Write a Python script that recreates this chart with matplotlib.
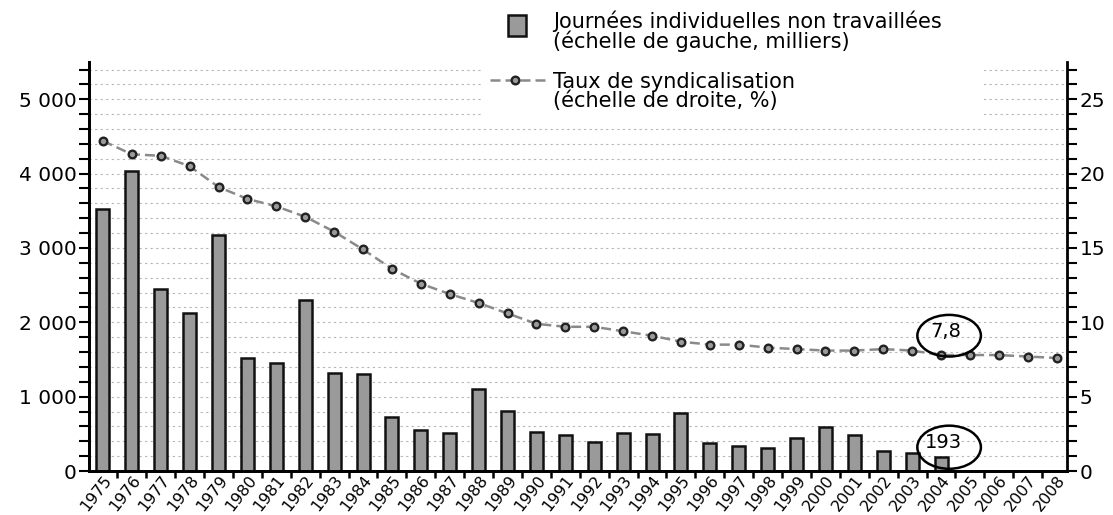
import numpy as np
import matplotlib.pyplot as plt
import matplotlib.transforms as mtransforms
from matplotlib.patches import Ellipse, Rectangle
from matplotlib.lines import Line2D

plt.rcParams['font.family'] = ['DejaVu Sans']

# ---------- données ----------
annees = [str(a) for a in range(1975, 2009)]
journees = [3520, 4030, 2450, 2120, 3170, 1520, 1450, 2300, 1320, 1300,
            730, 550, 510, 1100, 810, 525, 485, 390, 510, 500,
            780, 375, 335, 310, 440, 590, 485, 270, 240, 193,
            np.nan, np.nan, np.nan, np.nan]
taux = [22.2, 21.3, 21.2, 20.5, 19.1, 18.3, 17.8, 17.1, 16.1, 14.9,
        13.6, 12.6, 11.9, 11.3, 10.6, 9.9, 9.7, 9.7, 9.4, 9.1,
        8.7, 8.5, 8.5, 8.3, 8.2, 8.1, 8.1, 8.2, 8.1, 7.8,
        7.8, 7.8, 7.7, 7.6]
ticks_gauche = [0, 1000, 2000, 3000, 4000, 5000]
labels_gauche = ['0', '1 000', '2 000', '3 000', '4 000', '5 000']
ticks_droite = [0, 5, 10, 15, 20, 25]

x = np.arange(len(annees))
c_barre = '#9a9a9a'
c_ligne = '#8a8a8a'

fig = plt.figure(figsize=(11.13, 5.15), dpi=100)
ax = fig.add_axes([0.080, 0.0854, 0.8787, 0.794])
ax2 = ax.twinx()

# grille pointillée
for v in np.arange(200, 5600, 200):
    ax.axhline(v, color='#b5b5b5', lw=0.8, ls=(0, (2, 3)), zorder=0)

ax.bar(x, journees, width=0.45, color=c_barre, edgecolor='#111111', linewidth=1.8, zorder=3)
ax2.plot(x, taux, color=c_ligne, lw=1.8, ls=(0, (4, 2)), marker='o', markersize=5.5,
         markerfacecolor=c_barre, markeredgecolor='#222222', markeredgewidth=1.7, zorder=4)

ax.set_xlim(-0.48, 33.36)
ax.set_ylim(0, 5500)
ax2.set_ylim(0, 27.5)

ax.set_yticks(ticks_gauche)
ax.set_yticklabels(labels_gauche, fontsize=14.5)
ax.set_yticks(np.arange(0, 5600, 200), minor=True)
ax2.set_yticks(ticks_droite)
ax2.set_yticklabels([str(t) for t in ticks_droite], fontsize=14.5)
ax2.set_yticks(np.arange(0, 28, 1), minor=True)

ax.set_xticks(x)
ax.set_xticklabels(annees, rotation=52, fontsize=11.5, ha='right', va='top', rotation_mode='anchor')
decal = mtransforms.ScaledTranslation(0.1, 0, fig.dpi_scale_trans)
for lab in ax.get_xticklabels():
    lab.set_transform(lab.get_transform() + decal)
ax.set_xticks(np.arange(0.5, 33, 1), minor=True)
ax.tick_params(axis='x', which='major', length=0, pad=1)
ax.tick_params(axis='x', which='minor', length=5, width=1.8, direction='out')
ax.tick_params(axis='y', which='both', length=7, width=1.5, direction='out', pad=2)
ax2.tick_params(axis='y', which='both', length=7, width=1.5, direction='out', pad=2)

for a in (ax, ax2):
    a.spines['top'].set_visible(False)
    for s in ('left', 'right', 'bottom'):
        a.spines[s].set_linewidth(2)
ax.spines['right'].set_visible(False)

# cercles 2004
ax2.add_patch(Ellipse((29.28, 9.1), 2.2, 2.8, fill=False, lw=1.8, color='black', zorder=6))
ax2.text(29.15, 9.4, '7,8', fontsize=14, ha='center', va='center', zorder=7)
ax2.add_patch(Ellipse((29.28, 1.6), 2.2, 2.9, fill=False, lw=1.8, color='black', zorder=6, clip_on=False))
ax2.text(29.1, 1.95, '193', fontsize=14, ha='center', va='center', zorder=7)

# légende
fig.patches.append(Rectangle((0.432, 0.772), 0.452, 0.228, transform=fig.transFigure,
                             facecolor='white', edgecolor='none', zorder=2))
fig.patches.append(Rectangle((0.4565, 0.930), 0.0165, 0.040, transform=fig.transFigure,
                             facecolor=c_barre, edgecolor='#111111', lw=1.8, zorder=3))
fig.lines.append(Line2D([0.440, 0.491], [0.845, 0.845], transform=fig.transFigure, color=c_ligne,
                        lw=1.8, ls=(0, (4, 2)), zorder=3))
fig.lines.append(Line2D([0.4627], [0.845], transform=fig.transFigure, marker='o', markersize=5.5,
                        markerfacecolor=c_barre, markeredgecolor='#222222', markeredgewidth=1.7, zorder=4))
fig.text(0.497, 0.940, 'Journées individuelles non travaillées\n(échelle de gauche, milliers)',
         fontsize=15, va='center', ha='left', linespacing=0.9, zorder=5)
fig.text(0.497, 0.822, 'Taux de syndicalisation\n(échelle de droite, %)',
         fontsize=15, va='center', ha='left', linespacing=0.9, zorder=5)

fig.savefig('out.png', dpi=100)
